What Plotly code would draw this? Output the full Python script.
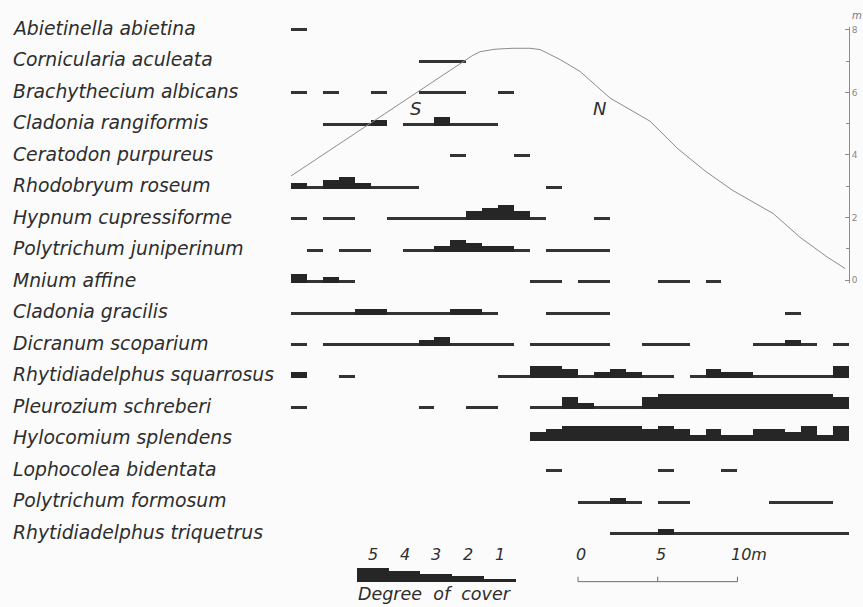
import plotly.graph_objects as go

# ---------------- data ----------------
species = [
    "Abietinella abietina", "Cornicularia aculeata", "Brachythecium albicans",
    "Cladonia rangiformis", "Ceratodon purpureus", "Rhodobryum roseum",
    "Hypnum cupressiforme", "Polytrichum juniperinum", "Mnium affine",
    "Cladonia gracilis", "Dicranum scoparium", "Rhytidiadelphus squarrosus",
    "Pleurozium schreberi", "Hylocomium splendens", "Lophocolea bidentata",
    "Polytrichum formosum", "Rhytidiadelphus triquetrus",
]

# degree of cover (0-5) in each 1 m cell along the 35 m transect
abietinella   = [1,0,0,0,0,0,0,0,0,0,0,0,0,0,0,0,0,0,0,0,0,0,0,0,0,0,0,0,0,0,0,0,0,0,0]
cornicularia  = [0,0,0,0,0,0,0,0,1,1,1,0,0,0,0,0,0,0,0,0,0,0,0,0,0,0,0,0,0,0,0,0,0,0,0]
brachythecium = [1,0,1,0,0,1,0,0,1,1,1,0,0,1,0,0,0,0,0,0,0,0,0,0,0,0,0,0,0,0,0,0,0,0,0]
clad_rangif   = [0,0,1,1,1,2,0,1,1,3,1,1,1,0,0,0,0,0,0,0,0,0,0,0,0,0,0,0,0,0,0,0,0,0,0]
ceratodon     = [0,0,0,0,0,0,0,0,0,0,1,0,0,0,1,0,0,0,0,0,0,0,0,0,0,0,0,0,0,0,0,0,0,0,0]
rhodobryum    = [2,1,3,4,2,1,1,1,0,0,0,0,0,0,0,0,1,0,0,0,0,0,0,0,0,0,0,0,0,0,0,0,0,0,0]
hypnum        = [1,0,1,1,0,0,1,1,1,1,1,3,4,5,3,1,0,0,0,1,0,0,0,0,0,0,0,0,0,0,0,0,0,0,0]
polytr_junip  = [0,1,0,1,1,0,0,1,1,2,4,3,2,2,1,0,1,1,1,1,0,0,0,0,0,0,0,0,0,0,0,0,0,0,0]
mnium         = [3,1,2,1,0,0,0,0,0,0,0,0,0,0,0,1,1,0,1,1,0,0,0,1,1,0,1,0,0,0,0,0,0,0,0]
clad_gracilis = [1,1,1,1,2,2,1,1,1,1,2,2,1,0,0,0,1,1,1,1,0,0,0,0,0,0,0,0,0,0,0,1,0,0,0]
dicranum      = [1,0,1,1,1,1,1,1,2,3,1,1,1,1,0,1,1,1,1,1,0,0,1,1,1,0,0,0,0,1,1,2,1,0,1]
rhyt_squarr   = [2,0,0,1,0,0,0,0,0,0,0,0,0,1,1,4,4,3,1,2,3,2,1,1,0,1,3,2,2,1,1,1,1,1,4]
pleurozium    = [1,0,0,0,0,0,0,0,1,0,0,1,1,0,0,1,1,4,2,1,1,1,4,5,5,5,5,5,5,5,5,5,5,5,4]
hylocomium    = [0,0,0,0,0,0,0,0,0,0,0,0,0,0,0,3,4,5,5,5,5,5,4,5,4,2,4,2,2,4,4,3,5,2,5]
lophocolea    = [0,0,0,0,0,0,0,0,0,0,0,0,0,0,0,0,1,0,0,0,0,0,0,1,0,0,0,1,0,0,0,0,0,0,0]
polytr_formos = [0,0,0,0,0,0,0,0,0,0,0,0,0,0,0,0,0,0,1,1,2,1,0,1,1,0,0,0,0,0,1,1,1,1,0]
rhyt_triquet  = [0,0,0,0,0,0,0,0,0,0,0,0,0,0,0,0,0,0,0,0,1,1,1,2,1,1,1,1,1,1,1,1,1,1,1]

cover = [abietinella, cornicularia, brachythecium, clad_rangif, ceratodon,
         rhodobryum, hypnum, polytr_junip, mnium, clad_gracilis, dicranum,
         rhyt_squarr, pleurozium, hylocomium, lophocolea, polytr_formos,
         rhyt_triquet]

# terrain profile: distance along transect (m) and height (m)
profile_dist = [0, 10.79, 11.36, 11.86, 12.80, 13.93, 14.99, 15.62, 16.25, 16.88,
                18.13, 20.01, 22.52, 24.22, 25.97, 27.73, 30.24, 31.93, 33.63, 34.76]
profile_elev = [3.33, 6.98, 7.17, 7.30, 7.38, 7.41, 7.41, 7.37, 7.21, 7.05,
                6.67, 5.82, 5.08, 4.22, 3.49, 2.86, 2.13, 1.37, 0.74, 0.37]

legend_levels = [5, 4, 3, 2, 1]
scale_ticks = [0, 5, 10]
elev_ticks = [0, 2, 4, 6, 8]
n_cells = 35

# ---------------- layout constants (pixels) ----------------
W, H = 863, 607
L, R = 291, 14
ROW0, ROWH = 29.5, 31.7           # baseline of first row, row spacing (px)
THICK = [0, 3, 6, 9, 12, 15]      # bar thickness per cover degree (px)
INK = "#262626"
TXT = "#2e2e2e"
FONT = "DejaVu Sans"
PXM = (W - L - R) / n_cells       # px per metre

def py2row(py):
    return (py - ROW0) / ROWH

fig = go.Figure()

# vegetation bars
bx, by, bb, bc = [], [], [], []
for r, row in enumerate(cover):
    for c, lev in enumerate(row):
        if lev > 0:
            bx.append(c + 0.5)
            by.append(-THICK[lev] / ROWH)
            bb.append(r)
            bc.append(INK if lev > 1 else "#333333")
fig.add_trace(go.Bar(x=bx, y=by, base=bb, width=1, marker=dict(color=bc, line_width=0),
                     hoverinfo="skip", showlegend=False, xaxis="x", yaxis="y"))

# legend bars (degree of cover)
leg_start = (356.7 - L) / PXM
leg_base = py2row(584.3)
lx = [leg_start + 2 * k + 1 for k in range(len(legend_levels))]
fig.add_trace(go.Bar(x=lx, y=[-THICK[v] / ROWH for v in legend_levels],
                     base=[leg_base] * len(legend_levels), width=2,
                     marker=dict(color=INK, line_width=0), hoverinfo="skip",
                     showlegend=False, xaxis="x", yaxis="y"))

# scale bar
sb_off = (578 - L) / PXM
sb_y = py2row(583.5)
tk = 5 / ROWH
sx, sy = [scale_ticks[0] + sb_off, scale_ticks[-1] + sb_off], [sb_y, sb_y]
for t in scale_ticks:
    sx += [None, t + sb_off, t + sb_off]
    sy += [None, sb_y, sb_y - tk]
fig.add_trace(go.Scatter(x=sx, y=sy, mode="lines", line=dict(color="#6e6e6e", width=1),
                         hoverinfo="skip", showlegend=False, xaxis="x", yaxis="y"))

# terrain profile on the height axis
fig.add_trace(go.Scatter(x=profile_dist, y=profile_elev, mode="lines",
                         line=dict(color="#8c8c8c", width=1), hoverinfo="skip",
                         showlegend=False, xaxis="x", yaxis="y2"))

ann = []
for r, name in enumerate(species):
    ann.append(dict(x=(11 - L) / (W - L - R), xref="paper", y=r - 0.09, yref="y",
                    text=f"<i>{name}</i>", showarrow=False, xanchor="left",
                    yanchor="middle", font=dict(family=FONT, size=18.8, color=TXT)))
for k, v in enumerate(legend_levels):
    ann.append(dict(x=lx[k], xref="x", y=py2row(556), yref="y", text=f"<i>{v}</i>",
                    showarrow=False, xanchor="center", yanchor="middle",
                    font=dict(family=FONT, size=16, color=TXT)))
ann.append(dict(x=leg_start, xref="x", y=py2row(596), yref="y",
                text="<i>Degree  of  cover</i>", showarrow=False, xanchor="left",
                xshift=-1, yanchor="middle", font=dict(family=FONT, size=17.5, color=TXT)))
for t in scale_ticks:
    last = t == scale_ticks[-1]
    ann.append(dict(x=t + sb_off, xref="x", y=py2row(556), yref="y",
                    text=f"<i>{t}m</i>" if last else f"<i>{t}</i>", showarrow=False,
                    xanchor="left" if last else "center", xshift=-8 if last else 3,
                    yanchor="middle", font=dict(family=FONT, size=16, color=TXT)))
ann.append(dict(x=(415 - L) / PXM, xref="x", y=py2row(107), yref="y", text="<i>S</i>",
                showarrow=False, font=dict(family=FONT, size=18, color=TXT)))
ann.append(dict(x=(599 - L) / PXM, xref="x", y=py2row(107), yref="y", text="<i>N</i>",
                showarrow=False, font=dict(family=FONT, size=18, color=TXT)))
ann.append(dict(x=1.0, xref="paper", y=1 - 14 / H, yref="paper", text="<i>m</i>",
                showarrow=False, xanchor="left", xshift=1, yanchor="middle",
                font=dict(family=FONT, size=10, color="#777777")))

y2_top_px, y2_bot_px = 25, 283
fig.update_layout(
    width=W, height=H, margin=dict(l=L, r=R, t=0, b=0),
    paper_bgcolor="#fbfbfb", plot_bgcolor="rgba(0,0,0,0)",
    bargap=0, barmode="overlay",
    xaxis=dict(range=[0, n_cells], visible=False, fixedrange=True),
    yaxis=dict(range=[py2row(H), py2row(0)], visible=False, fixedrange=True),
    yaxis2=dict(domain=[1 - y2_bot_px / H, 1 - y2_top_px / H], anchor="x", side="right",
                range=[(280 - y2_bot_px) / 31.5, (280 - y2_top_px) / 31.5],
                tickvals=elev_ticks, ticks="inside", ticklen=4, tickcolor="#8c8c8c",
                showline=True, linecolor="#8c8c8c", linewidth=1, showgrid=False,
                zeroline=False, tickfont=dict(family=FONT, size=9, color="#888888"),
                minor=dict(dtick=1, ticks="inside", ticklen=3, tickcolor="#8c8c8c"),
                fixedrange=True),
    annotations=ann,
    showlegend=False,
)

fig.write_html("out.html")
